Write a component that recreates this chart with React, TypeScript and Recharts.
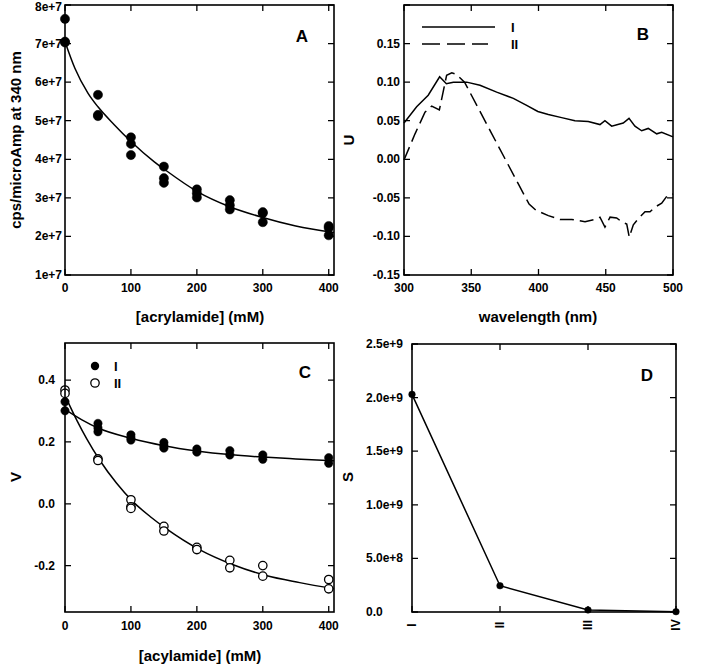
import React from "react";
import { ComposedChart, Scatter, Line, XAxis, YAxis } from "recharts";

const FONT = '"Liberation Sans", Arial, sans-serif';

// ---- Panel A: quenching data ----
const aConc = [0, 0, 0, 50, 50, 50, 100, 100, 100, 150, 150, 150, 200, 200, 200, 250, 250, 250, 300, 300, 300, 400, 400, 400];
const aCps = [
  7.64e7, 7.05e7, 7.03e7, 5.67e7, 5.15e7, 5.12e7, 4.57e7, 4.4e7, 4.11e7, 3.81e7, 3.51e7, 3.39e7,
  3.22e7, 3.12e7, 3.01e7, 2.94e7, 2.81e7, 2.7e7, 2.63e7, 2.6e7, 2.37e7, 2.27e7, 2.22e7, 2.03e7,
];
const aFitConc = [0, 15, 35, 50, 75, 100, 135, 150, 200, 250, 300, 350, 408];
const aFitCps = [7.05e7, 6.36e7, 5.71e7, 5.36e7, 4.89e7, 4.46e7, 3.94e7, 3.75e7, 3.17e7, 2.77e7, 2.49e7, 2.27e7, 2.1e7];
const aXTicks = [0, 100, 200, 300, 400];
const aYTicks = [1e7, 2e7, 3e7, 4e7, 5e7, 6e7, 7e7, 8e7];

// ---- Panel B: spectra ----
const bWaveI = [300, 309.4, 318, 326.5, 331.5, 336.7, 346.6, 356.5, 368.9, 381.3, 391.2, 399.5, 407.3, 417.2, 427.1, 437, 445.7, 449.4, 454.4, 463, 467.3, 471.7, 476.7, 481.6, 487.9, 491.6, 500];
const bUI = [0.047, 0.068, 0.083, 0.107, 0.098, 0.1, 0.1, 0.096, 0.087, 0.079, 0.07, 0.062, 0.058, 0.054, 0.05, 0.049, 0.045, 0.05, 0.043, 0.047, 0.053, 0.043, 0.037, 0.04, 0.033, 0.035, 0.029];
const bWaveII = [300, 308.2, 315.6, 320.6, 326.3, 331.7, 335.5, 339, 345, 355, 365, 375, 385, 393, 398, 407.3, 416, 424.7, 434.6, 442, 445.7, 449.4, 453.2, 458.1, 461.8, 465.6, 467.5, 470.5, 474.2, 479.2, 482.9, 486.6, 491.6, 495.4, 500];
const bUII = [-0.001, 0.033, 0.061, 0.069, 0.064, 0.109, 0.112, 0.11, 0.1, 0.067, 0.034, 0.001, -0.032, -0.058, -0.066, -0.073, -0.078, -0.078, -0.081, -0.078, -0.075, -0.088, -0.075, -0.076, -0.081, -0.084, -0.101, -0.085, -0.077, -0.068, -0.068, -0.062, -0.057, -0.048, -0.045];
const bXTicks = [300, 350, 400, 450, 500];
const bYTicks = [-0.15, -0.1, -0.05, 0, 0.05, 0.1, 0.15, 0.2];

// ---- Panel C: two components ----
const cConcI = [0, 0, 50, 50, 50, 100, 100, 100, 150, 150, 150, 200, 200, 250, 250, 300, 300, 400, 400];
const cValI = [0.301, 0.33, 0.26, 0.245, 0.233, 0.223, 0.213, 0.206, 0.198, 0.188, 0.18, 0.177, 0.167, 0.172, 0.158, 0.158, 0.144, 0.149, 0.131];
const cConcII = [0, 0, 50, 50, 100, 100, 100, 150, 150, 200, 200, 250, 250, 300, 300, 400, 400];
const cValII = [0.368, 0.357, 0.145, 0.14, 0.013, -0.01, -0.015, -0.073, -0.088, -0.141, -0.148, -0.183, -0.207, -0.2, -0.234, -0.245, -0.275];
const cFitConcI = [0, 25, 50, 100, 150, 200, 250, 300, 350, 408];
const cFitI = [0.305, 0.272, 0.245, 0.212, 0.188, 0.171, 0.159, 0.151, 0.145, 0.139];
const cFitConcII = [0, 18, 33, 53, 78, 103, 129, 154, 204, 255, 305, 356, 408];
const cFitII = [0.35, 0.27, 0.21, 0.14, 0.067, 0.007, -0.041, -0.081, -0.148, -0.197, -0.232, -0.255, -0.275];
const cYTicks = [-0.2, 0, 0.2, 0.4];

// ---- Panel D: singular values ----
const dLabels = ["I", "II", "III", "IV"];
const dValues = [2.03e9, 2.45e8, 1.9e7, 3e6];
const dXTicks = [0, 1, 2, 3];
const dYTicks = [0, 5e8, 1e9, 1.5e9, 2e9, 2.5e9];

const zip = (xs: number[], ys: number[]) => xs.map((x, i) => ({ x, y: ys[i] }));

interface LabelOpts {
  fmt: (v: number) => string;
  gap?: number;
  anchor?: "start" | "end" | "middle";
  rotate?: boolean;
}

const xLabel = (o: LabelOpts) => (props: any) => {
  const x = Number(props.x);
  const ty = Number(props.y) + (o.gap ?? 13);
  return (
    <text x={x} y={ty} transform={o.rotate ? `rotate(-90 ${x} ${ty})` : undefined} textAnchor="middle" dominantBaseline="central" fontFamily={FONT} fontWeight={700} fontSize={12} fill="#000">
      {o.fmt(props.payload.value)}
    </text>
  );
};
const yLabel = (o: LabelOpts) => (props: any) => (
  <text x={Number(props.x) - (o.gap ?? 3)} y={Math.max(Number(props.y), 7)} textAnchor={o.anchor ?? "end"} dominantBaseline="central" fontFamily={FONT} fontWeight={700} fontSize={12} fill="#000">
    {o.fmt(props.payload.value)}
  </text>
);

const axisBase = { type: "number" as const, interval: 0, tickSize: 0, tickMargin: 0, axisLine: false, tickLine: false };
const xAxisProps = (domain: number[], ticks: number[], o: LabelOpts) => ({ ...axisBase, dataKey: "x", domain, ticks, height: 1, tick: xLabel(o) });
const yAxisProps = (domain: number[], ticks: number[], o: LabelOpts) => ({ ...axisBase, dataKey: "y", domain, ticks, width: 1, tick: yLabel(o) });

// plot boxes on the page (chart offset + margin + axis size)
interface Box { l: number; t: number; r: number; b: number }
const boxA: Box = { l: 65, t: 5, r: 334, b: 275 };
const boxB: Box = { l: 404, t: 5, r: 673, b: 275 };
const boxC: Box = { l: 65, t: 343, r: 334, b: 612 };
const boxD: Box = { l: 412, t: 344, r: 676, b: 612 };

// SigmaPlot-style frame with inward ticks on all four sides, laid over the plot
function FrameBox({ box, xd, yd, xt, yt }: { box: Box; xd: number[]; yd: number[]; xt: number[]; yt: number[] }) {
  const w = box.r - box.l;
  const h = box.b - box.t;
  const sx = (v: number) => ((v - xd[0]) / (xd[1] - xd[0])) * w;
  const sy = (v: number) => h - ((v - yd[0]) / (yd[1] - yd[0])) * h;
  const L = 6;
  let d = "";
  xt.forEach((v) => {
    const x = sx(v);
    d += `M${x},${h}V${h - L}M${x},0V${L}`;
  });
  yt.forEach((v) => {
    const y = sy(v);
    d += `M0,${y}H${L}M${w},${y}H${w - L}`;
  });
  return (
    <svg style={{ position: "absolute", left: box.l, top: box.t, overflow: "visible", zIndex: 5 }} width={w} height={h}>
      <rect x={0} y={0} width={w} height={h} fill="none" stroke="#000" strokeWidth={1.6} />
      <path d={d} stroke="#000" strokeWidth={1.3} fill="none" />
    </svg>
  );
}

const dot = (r: number, open = false) => (p: any) => (
  <circle cx={p.cx} cy={p.cy} r={r} fill={open ? "#fff" : "#000"} stroke="#000" strokeWidth={open ? 1.3 : 0.5} />
);

function Title({ x, y, text, rotate = false, size = 15 }: { x: number; y: number; text: string; rotate?: boolean; size?: number }) {
  return (
    <div
      style={{
        position: "absolute",
        left: x,
        top: y,
        transform: `translate(-50%, -50%)${rotate ? " rotate(-90deg)" : ""}`,
        fontFamily: FONT,
        fontWeight: 700,
        fontSize: size,
        whiteSpace: "nowrap",
        lineHeight: 1,
      }}
    >
      {text}
    </div>
  );
}

const expFmt = (v: number) => `${v / 1e7}e+7`;
const fix2 = (v: number) => (Math.abs(v) < 1e-9 ? "0.00" : v.toFixed(2));
const fix1 = (v: number) => (Math.abs(v) < 1e-9 ? "0.0" : v.toFixed(1));
const sciFmt = (v: number) => {
  if (v === 0) return "0.0";
  const e = Math.floor(Math.log10(v) + 1e-9);
  return `${(v / Math.pow(10, e)).toFixed(1)}e+${e}`;
};

const aXD = [0, 408], aYD = [1e7, 8e7];
const bXD = [300, 500], bYD = [-0.15, 0.2];
const cXD = [0, 408], cYD = [-0.35, 0.52];
const dXD = [0, 3], dYD = [0, 2.5e9];

function PanelA() {
  return (
    <ComposedChart width={340} height={320} margin={{ top: 5, right: 6, bottom: 44, left: 64 }}>
      <XAxis {...xAxisProps(aXD, aXTicks, { fmt: String })} />
      <YAxis {...yAxisProps(aYD, aYTicks, { fmt: expFmt, gap: 3 })} />
      <Line data={zip(aFitConc, aFitCps)} dataKey="y" type="monotone" stroke="#000" strokeWidth={1.5} dot={false} isAnimationActive={false} />
      <Scatter data={zip(aConc, aCps)} dataKey="y" shape={dot(4.6)} isAnimationActive={false} />
    </ComposedChart>
  );
}

function PanelB() {
  return (
    <ComposedChart width={361} height={320} margin={{ top: 5, right: 28, bottom: 44, left: 63 }}>
      <XAxis {...xAxisProps(bXD, bXTicks, { fmt: String })} />
      <YAxis {...yAxisProps(bYD, bYTicks, { fmt: (v: number) => (v > 0.19 ? "" : fix2(v)), gap: 4 })} />
      <Line data={zip(bWaveI, bUI)} dataKey="y" type="linear" stroke="#000" strokeWidth={1.5} dot={false} isAnimationActive={false} />
      <Line data={zip(bWaveII, bUII)} dataKey="y" type="linear" stroke="#000" strokeWidth={1.5} strokeDasharray="14 6" dot={false} isAnimationActive={false} />
    </ComposedChart>
  );
}

function PanelC() {
  return (
    <ComposedChart width={340} height={347} margin={{ top: 23, right: 6, bottom: 54, left: 64 }}>
      <XAxis {...xAxisProps(cXD, aXTicks, { fmt: String, gap: 14 })} />
      <YAxis {...yAxisProps(cYD, cYTicks, { fmt: fix1, gap: 10 })} />
      <Line data={zip(cFitConcI, cFitI)} dataKey="y" type="monotone" stroke="#000" strokeWidth={1.5} dot={false} isAnimationActive={false} />
      <Line data={zip(cFitConcII, cFitII)} dataKey="y" type="monotone" stroke="#000" strokeWidth={1.5} dot={false} isAnimationActive={false} />
      <Scatter data={zip(cConcI, cValI)} dataKey="y" shape={dot(4.2)} isAnimationActive={false} />
      <Scatter data={zip(cConcII, cValII)} dataKey="y" shape={dot(4.2, true)} isAnimationActive={false} />
    </ComposedChart>
  );
}

function PanelD() {
  return (
    <ComposedChart width={361} height={347} margin={{ top: 24, right: 25, bottom: 54, left: 71 }}>
      <XAxis {...xAxisProps(dXD, dXTicks, { fmt: (v: number) => dLabels[v], gap: 13, rotate: true })} />
      <YAxis {...yAxisProps(dYD, dYTicks, { fmt: sciFmt, gap: 46, anchor: "start" })} />
      <Line data={zip(dXTicks, dValues)} dataKey="y" type="linear" stroke="#000" strokeWidth={1.5} dot={dot(3.3)} isAnimationActive={false} />
    </ComposedChart>
  );
}

const legendText = { fontFamily: FONT, fontWeight: 700, fontSize: 13 };

export default function App() {
  return (
    <div style={{ position: "absolute", left: 0, top: 0, width: 701, height: 667, background: "#fff" }}>
      <div style={{ position: "absolute", left: 0, top: 0 }}><PanelA /></div>
      <div style={{ position: "absolute", left: 340, top: 0 }}><PanelB /></div>
      <div style={{ position: "absolute", left: 0, top: 320 }}><PanelC /></div>
      <div style={{ position: "absolute", left: 340, top: 320 }}><PanelD /></div>

      <FrameBox box={boxA} xd={aXD} yd={aYD} xt={aXTicks} yt={aYTicks} />
      <FrameBox box={boxB} xd={bXD} yd={bYD} xt={bXTicks} yt={bYTicks} />
      <FrameBox box={boxC} xd={cXD} yd={cYD} xt={aXTicks} yt={cYTicks} />
      <FrameBox box={boxD} xd={dXD} yd={dYD} xt={dXTicks} yt={dYTicks} />

      {/* axis titles */}
      <Title x={15} y={140} text="cps/microAmp at 340 nm" rotate />
      <Title x={200} y={316} text="[acrylamide] (mM)" />
      <Title x={348} y={140} text="U" rotate />
      <Title x={538} y={316} text="wavelength (nm)" />
      <Title x={15} y={477} text="V" rotate />
      <Title x={200} y={655} text="[acylamide] (mM)" />
      <Title x={347} y={477} text="S" rotate />

      {/* panel letters */}
      <Title x={302} y={36} text="A" size={17} />
      <Title x={643} y={34} text="B" size={17} />
      <Title x={305} y={372} text="C" size={17} />
      <Title x={647} y={375} text="D" size={17} />

      {/* legend B */}
      <svg style={{ position: "absolute", left: 415, top: 17 }} width={110} height={36}>
        <line x1={7} y1={10} x2={80} y2={10} stroke="#000" strokeWidth={1.5} />
        <line x1={7} y1={27} x2={73} y2={27} stroke="#000" strokeWidth={1.5} strokeDasharray="18 7" />
        <text x={96} y={10} dominantBaseline="central" style={legendText}>I</text>
        <text x={96} y={27} dominantBaseline="central" style={legendText}>II</text>
      </svg>
      {/* legend C */}
      <svg style={{ position: "absolute", left: 88, top: 357 }} width={40} height={34}>
        <circle cx={7} cy={9} r={4.2} fill="#000" />
        <circle cx={7} cy={26} r={4.2} fill="#fff" stroke="#000" strokeWidth={1.3} />
        <text x={26} y={9} dominantBaseline="central" style={legendText}>I</text>
        <text x={26} y={26} dominantBaseline="central" style={legendText}>II</text>
      </svg>
    </div>
  );
}
